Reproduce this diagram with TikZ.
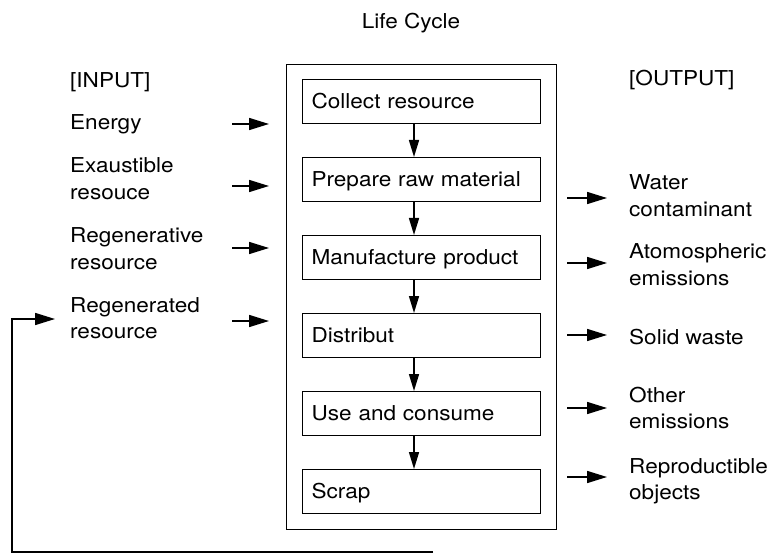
\documentclass[tikz,border=0pt]{standalone}
\usepackage{fontspec}
\setmainfont{TeX Gyre Heros}[FakeStretch=1.1]
\usetikzlibrary{arrows.meta}
\begin{document}
\begin{tikzpicture}[x=1bp,y=-1bp,
  every node/.style={inner sep=0pt, font=\fontsize{20.5bp}{26.5bp}\selectfont},
  lbl/.style={anchor=base west},
  stage/.style={draw, line width=1.2bp, minimum width=238bp, minimum height=44bp,
    text width=220bp, align=left, text height=14.5bp, text depth=0pt, anchor=north west},
  arr/.style={line width=1.6bp, -{Triangle[length=20bp,width=12bp]}},
  varr/.style={line width=1.5bp, -{Triangle[length=17bp,width=10bp]}},
  ln/.style={line width=1.2bp}]
\useasboundingbox (0,0) rectangle (776,555);

% title
\node[anchor=base] (title) at (411,29) {Life Cycle};

% frame and stages
\node[draw, ln, minimum width=270bp, minimum height=465bp, anchor=north west] (frame) at (286,64) {};
\node[stage] (s1) at (302,79)  {Collect resource};
\node[stage] (s2) at (302,157) {Prepare raw material};
\node[stage] (s3) at (302,235) {Manufacture product};
\node[stage] (s4) at (302,313) {Distribut};
\node[stage] (s5) at (302,391) {Use and consume};
\node[stage] (s6) at (302,469) {Scrap};

\coordinate (vx) at (414,0);
\foreach \a/\b in {s1/s2,s2/s3,s3/s4,s4/s5,s5/s6}
  \draw[varr] (\a.south -| vx) -- (\b.north -| vx);

% inputs
\node[lbl] (inhead) at (70,88)  {[INPUT]};
\node[lbl] (in1) at (70,130) {Energy};
\node[lbl] (in2) at (70,173) {\begin{tabular}[t]{@{}l@{}}Exaustible\\resouce\end{tabular}};
\node[lbl] (in3) at (70,243) {\begin{tabular}[t]{@{}l@{}}Regenerative\\resource\end{tabular}};
\node[lbl] (in4) at (70,312) {\begin{tabular}[t]{@{}l@{}}Regenerated\\resource\end{tabular}};

\coordinate (i1s) at (232,124); \coordinate (i1e) at (269,124);
\coordinate (i2s) at (232,186); \coordinate (i2e) at (269,186);
\coordinate (i3s) at (232,248); \coordinate (i3e) at (269,248);
\coordinate (i4s) at (232,321); \coordinate (i4e) at (269,321);
\draw[arr] (i1s) -- (i1e);
\draw[arr] (i2s) -- (i2e);
\draw[arr] (i3s) -- (i3e);
\draw[arr] (i4s) -- (i4e);

% outputs
\node[lbl] (outhead) at (629,86) {[OUTPUT]};
\node[lbl] (o1) at (629,190) {\begin{tabular}[t]{@{}l@{}}Water\\contaminant\end{tabular}};
\node[lbl] (o2) at (629,259) {\begin{tabular}[t]{@{}l@{}}Atomospheric\\emissions\end{tabular}};
\node[lbl] (o3) at (629,344) {Solid waste};
\node[lbl] (o4) at (629,402) {\begin{tabular}[t]{@{}l@{}}Other\\emissions\end{tabular}};
\node[lbl] (o5) at (629,473) {\begin{tabular}[t]{@{}l@{}}Reproductible\\objects\end{tabular}};

\coordinate (o1s) at (567,198); \coordinate (o1e) at (607,198);
\coordinate (o2s) at (567,263); \coordinate (o2e) at (607,263);
\coordinate (o3s) at (567,335); \coordinate (o3e) at (607,335);
\coordinate (o4s) at (567,408); \coordinate (o4e) at (607,408);
\coordinate (o5s) at (567,477); \coordinate (o5e) at (607,477);
\draw[arr] (o1s) -- (o1e);
\draw[arr] (o2s) -- (o2e);
\draw[arr] (o3s) -- (o3e);
\draw[arr] (o4s) -- (o4e);
\draw[arr] (o5s) -- (o5e);

% feedback loop
\coordinate (fb0) at (433,552);
\coordinate (fb1) at (12,552);
\coordinate (fb2) at (55,319);
\draw[arr] (fb0) -- (fb1) |- (fb2);
\end{tikzpicture}
\end{document}
